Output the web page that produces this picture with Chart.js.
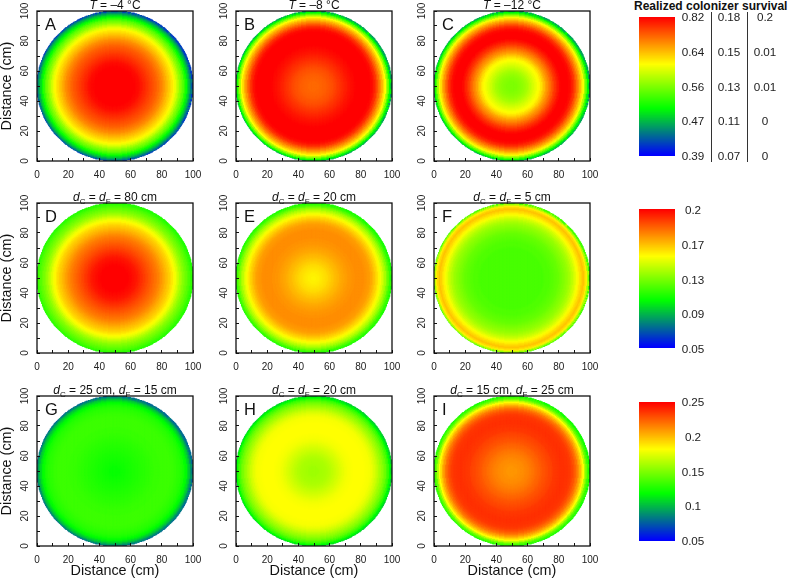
<!doctype html>
<html lang="en">
<head>
    <meta charset="UTF-8" />
    <title>Realized colonizer survival</title>
    <style>
        html, body { margin: 0; background: #fff; overflow: hidden; }
        body { width: 789px; height: 582px; position: relative; font-family: 'Liberation Sans', Arial, sans-serif; color: #111; }
        canvas { position: absolute; }
        .title { position: absolute; width: 200px; text-align: center; font-size: 12px; line-height: 13px; white-space: nowrap; }
        .title sub { font-size: 8px; line-height: 0; }
        .letter { position: absolute; font-size: 16.5px; line-height: 18px; }
        .key { position: absolute; width: 40px; text-align: center; font-size: 11.7px; line-height: 14px; color: #222; }
        .rule { position: absolute; width: 1.4px; top: 12px; height: 150px; background: #333; }
        .heading { position: absolute; left: 634px; top: 0; font-size: 12px; line-height: 12px; font-weight: bold; white-space: nowrap; }
    </style>
</head>
<body>
    <div class="heading">Realized colonizer survival</div>
    <script src="https://cdn.jsdelivr.net/npm/chart.js"></script>
    <script>
        // colour level (0 = blue end of the key, 1 = red end), read every 1 cm from centre to rim
        const levelsA = [1, 1, 1, 1, 1, 1, 1, 1, 1, 1, 1, 1, 1, .995, .99, .985, .98, .97, .96, .95, .94, .93, .92, .91, .9, .89, .88, .87, .855, .84, .825, .81, .79, .77, .75, .73, .71, .69, .67, .635, .6, .56, .52, .485, .45, .4, .35, .295, .24, .17, .08];
        const levelsB = [.86, .86, .86, .86, .865, .867, .87, .872, .875, .88, .885, .89, .895, .902, .91, .917, .925, .932, .94, .947, .955, .962, .97, .975, .98, .985, .99, .995, 1, 1, 1, 1, 1, 1, 1, 1, 1, .99, .98, .955, .93, .89, .85, .805, .76, .71, .66, .56, .46, .34, .22];
        const levelsC = [.5, .5, .5, .5, .505, .51, .515, .522, .53, .54, .55, .565, .58, .595, .61, .625, .64, .655, .67, .695, .72, .75, .78, .805, .83, .855, .88, .905, .93, .95, .97, .985, 1, 1, 1, 1, 1, .99, .98, .955, .93, .89, .85, .805, .76, .705, .65, .55, .45, .335, .22];
        const levelsD = [1, 1, 1, 1, 1, 1, 1, 1, 1, .995, .99, .985, .98, .975, .97, .96, .95, .94, .93, .92, .91, .9, .89, .88, .87, .86, .85, .84, .83, .815, .8, .785, .77, .755, .74, .725, .71, .69, .67, .645, .62, .59, .56, .535, .51, .49, .47, .45, .43, .405, .38];
        const levelsE = [.675, .675, .68, .68, .685, .69, .695, .7, .705, .71, .72, .725, .735, .74, .75, .755, .76, .77, .775, .78, .785, .79, .795, .8, .8, .805, .805, .81, .81, .81, .81, .81, .81, .805, .8, .795, .79, .775, .76, .74, .72, .7, .675, .645, .615, .58, .545, .5, .455, .41, .37];
        const levelsF = [.43, .43, .43, .43, .43, .43, .43, .43, .43, .43, .43, .43, .43, .43, .43, .43, .43, .43, .43, .43, .43, .435, .44, .44, .44, .445, .45, .455, .46, .465, .47, .48, .49, .5, .51, .52, .53, .545, .56, .58, .6, .625, .65, .675, .7, .72, .74, .715, .68, .56, .42];
        const levelsG = [.35, .35, .35, .35, .355, .357, .36, .362, .365, .367, .37, .372, .375, .377, .38, .382, .385, .387, .39, .392, .395, .397, .4, .402, .405, .407, .41, .41, .41, .412, .415, .415, .415, .415, .415, .415, .415, .412, .41, .405, .4, .395, .39, .38, .37, .35, .33, .295, .26, .2, .14];
        const levelsH = [.54, .54, .54, .54, .545, .547, .55, .552, .555, .56, .565, .572, .58, .587, .595, .602, .61, .617, .625, .632, .64, .645, .65, .652, .655, .657, .66, .66, .66, .66, .66, .66, .66, .657, .655, .652, .65, .64, .63, .615, .6, .58, .56, .54, .52, .495, .47, .435, .4, .34, .28];
        const levelsI = [.8, .8, .8, .8, .805, .807, .81, .812, .815, .82, .825, .83, .835, .84, .845, .852, .86, .865, .87, .877, .885, .89, .895, .9, .905, .91, .915, .922, .925, .927, .93, .932, .935, .935, .935, .932, .93, .925, .92, .905, .89, .865, .84, .8, .76, .71, .66, .57, .48, .42, .36];

        const axisTicks = [0, 20, 40, 60, 80, 100];
        const panelLetters = ['A', 'B', 'C', 'D', 'E', 'F', 'G', 'H', 'I'];
        const panelTitles = [
            '<i>T</i> = –4 °C', '<i>T</i> = –8 °C', '<i>T</i> = –12 °C',
            '<i>d</i><sub>C</sub> = <i>d</i><sub>F</sub> = 80 cm', '<i>d</i><sub>C</sub> = <i>d</i><sub>F</sub> = 20 cm', '<i>d</i><sub>C</sub> = <i>d</i><sub>F</sub> = 5 cm',
            '<i>d</i><sub>C</sub> = 25 cm, <i>d</i><sub>F</sub> = 15 cm', '<i>d</i><sub>C</sub> = <i>d</i><sub>F</sub> = 20 cm', '<i>d</i><sub>C</sub> = 15 cm, <i>d</i><sub>F</sub> = 25 cm'
        ];
        const panelLevels = [levelsA, levelsB, levelsC, levelsD, levelsE, levelsF, levelsG, levelsH, levelsI];

        const keyTopCol1 = ['0.82', '0.64', '0.56', '0.47', '0.39'];
        const keyTopCol2 = ['0.18', '0.15', '0.13', '0.11', '0.07'];
        const keyTopCol3 = ['0.2', '0.01', '0.01', '0', '0'];
        const keyMiddle = ['0.2', '0.17', '0.13', '0.09', '0.05'];
        const keyBottom = ['0.25', '0.2', '0.15', '0.1', '0.05'];

        const colLeft = [37, 236, 434];
        const rowTop = [11, 203, 396];
        const plotW = 156, plotH = 150, padTop = 10;

        // blue - green - yellow - red, as on the keys
        function levelColor(t) {
            const stops = [[0, 0, 0, 255], [.34, 0, 255, 0], [.66, 255, 255, 0], [1, 255, 0, 0]];
            let i = 0;
            while (i < 2 && t > stops[i + 1][0]) i++;
            const a = stops[i], b = stops[i + 1];
            const f = (t - a[0]) / (b[0] - a[0]);
            const c = [1, 2, 3].map(k => Math.round(a[k] + (b[k] - a[k]) * f));
            return `rgb(${c[0]},${c[1]},${c[2]})`;
        }

        function addCanvas(left, top, w, h) {
            const c = document.createElement('canvas');
            c.width = w;
            c.height = h;
            c.style.left = left + 'px';
            c.style.top = top + 'px';
            document.body.appendChild(c);
            return c;
        }

        function addDiv(cls, left, top, html) {
            const d = document.createElement('div');
            d.className = cls;
            d.style.left = left + 'px';
            d.style.top = top + 'px';
            d.innerHTML = html;
            document.body.appendChild(d);
        }

        const framePlugin = {
            id: 'frame',
            afterDraw(chart) {
                const a = chart.chartArea, ctx = chart.ctx;
                ctx.save();
                ctx.strokeStyle = '#111';
                ctx.lineWidth = 1.3;
                ctx.strokeRect(a.left, a.top, a.right - a.left, a.bottom - a.top);
                ctx.restore();
            }
        };

        const tickFont = { family: "'Liberation Sans', Arial, sans-serif", size: 10 };
        const titleFont = { family: "'Liberation Sans', Arial, sans-serif", size: 14.4 };

        function drawPanel(i) {
            const col = i % 3, row = Math.floor(i / 3);
            const levels = panelLevels[i];
            const ringColors = levels.map(levelColor);
            const cells = [], colors = [];
            for (let x = 0.25; x < 100; x += 0.5) {
                for (let y = 0.25; y < 100; y += 0.5) {
                    const r = Math.hypot(x - 50, y - 50);
                    if (r > 49.8) continue;
                    cells.push({ x, y });
                    colors.push(ringColors[Math.round(r)]);
                }
            }
            const boxW = col === 0 ? 39 : 37;
            const boxH = row === 2 ? 34 : 25;
            const canvas = addCanvas(colLeft[col] - boxW, rowTop[row] - padTop, boxW + plotW + 12, padTop + plotH + boxH);
            const tickText = v => axisTicks.includes(v) ? String(v) : '';
            new Chart(canvas, {
                type: 'scatter',
                data: {
                    datasets: [{
                        data: cells,
                        pointStyle: 'rect',
                        pointRadius: 1.26,
                        pointBorderWidth: 0,
                        pointBackgroundColor: colors
                    }]
                },
                plugins: [framePlugin],
                options: {
                    responsive: false,
                    animation: false,
                    parsing: false,
                    normalized: true,
                    events: [],
                    layout: { autoPadding: false, padding: { top: padTop, right: 12, left: 0, bottom: 0 } },
                    plugins: { legend: { display: false }, tooltip: { enabled: false }, title: { display: false } },
                    scales: {
                        x: {
                            type: 'linear', min: 0, max: 100,
                            afterFit: s => { s.height = boxH; s.paddingLeft = 0; s.paddingRight = 0; },
                            border: { display: false },
                            grid: { drawOnChartArea: false, tickLength: -3, color: '#111', z: 1 },
                            ticks: { stepSize: 10, autoSkip: false, maxRotation: 0, padding: 11, color: '#222', font: tickFont, callback: tickText },
                            title: { display: row === 2, text: 'Distance (cm)', color: '#111', font: titleFont, padding: 0 }
                        },
                        y: {
                            type: 'linear', min: 0, max: 100,
                            afterFit: s => { s.width = boxW; s.paddingTop = 0; s.paddingBottom = 0; },
                            border: { display: false },
                            grid: { drawOnChartArea: false, tickLength: -3, color: '#111', z: 1 },
                            ticks: { stepSize: 10, autoSkip: false, minRotation: 90, maxRotation: 90, crossAlign: 'center', padding: 6.4, color: '#222', font: tickFont, callback: tickText },
                            title: { display: col === 0, text: 'Distance (cm)', color: '#111', font: titleFont, padding: 0 }
                        }
                    }
                }
            });
            addDiv('title', colLeft[col] + plotW / 2 - 100, rowTop[row] - 12, panelTitles[i]);
            addDiv('letter', colLeft[col] + 8, rowTop[row] + 4, panelLetters[i]);
        }

        function drawKey(top) {
            const steps = [];
            for (let k = 138; k >= 0; k--) steps.push(k / 138);
            new Chart(addCanvas(639, top, 36, 139), {
                type: 'bar',
                data: {
                    labels: steps,
                    datasets: [{
                        data: steps.map(() => 1),
                        backgroundColor: steps.map(levelColor),
                        barPercentage: 1,
                        categoryPercentage: 1,
                        borderWidth: 0
                    }]
                },
                options: {
                    indexAxis: 'y',
                    responsive: false,
                    animation: false,
                    events: [],
                    layout: { padding: 0 },
                    plugins: { legend: { display: false }, tooltip: { enabled: false } },
                    scales: {
                        x: { display: false, min: 0, max: 1 },
                        y: { display: false }
                    }
                }
            });
        }

        function keyLabels(top, centerX, labels) {
            labels.forEach((text, k) => addDiv('key', centerX - 20, top + k * 34.75 - 7, text));
        }

        panelLevels.forEach((_, i) => drawPanel(i));
        [17, 209, 402].forEach(drawKey);
        keyLabels(17, 693, keyTopCol1);
        keyLabels(17, 729, keyTopCol2);
        keyLabels(17, 765, keyTopCol3);
        keyLabels(210, 693, keyMiddle);
        keyLabels(402, 693, keyBottom);
        addDiv('rule', 711, 12, '');
        addDiv('rule', 747, 12, '');
    </script>
</body>
</html>
